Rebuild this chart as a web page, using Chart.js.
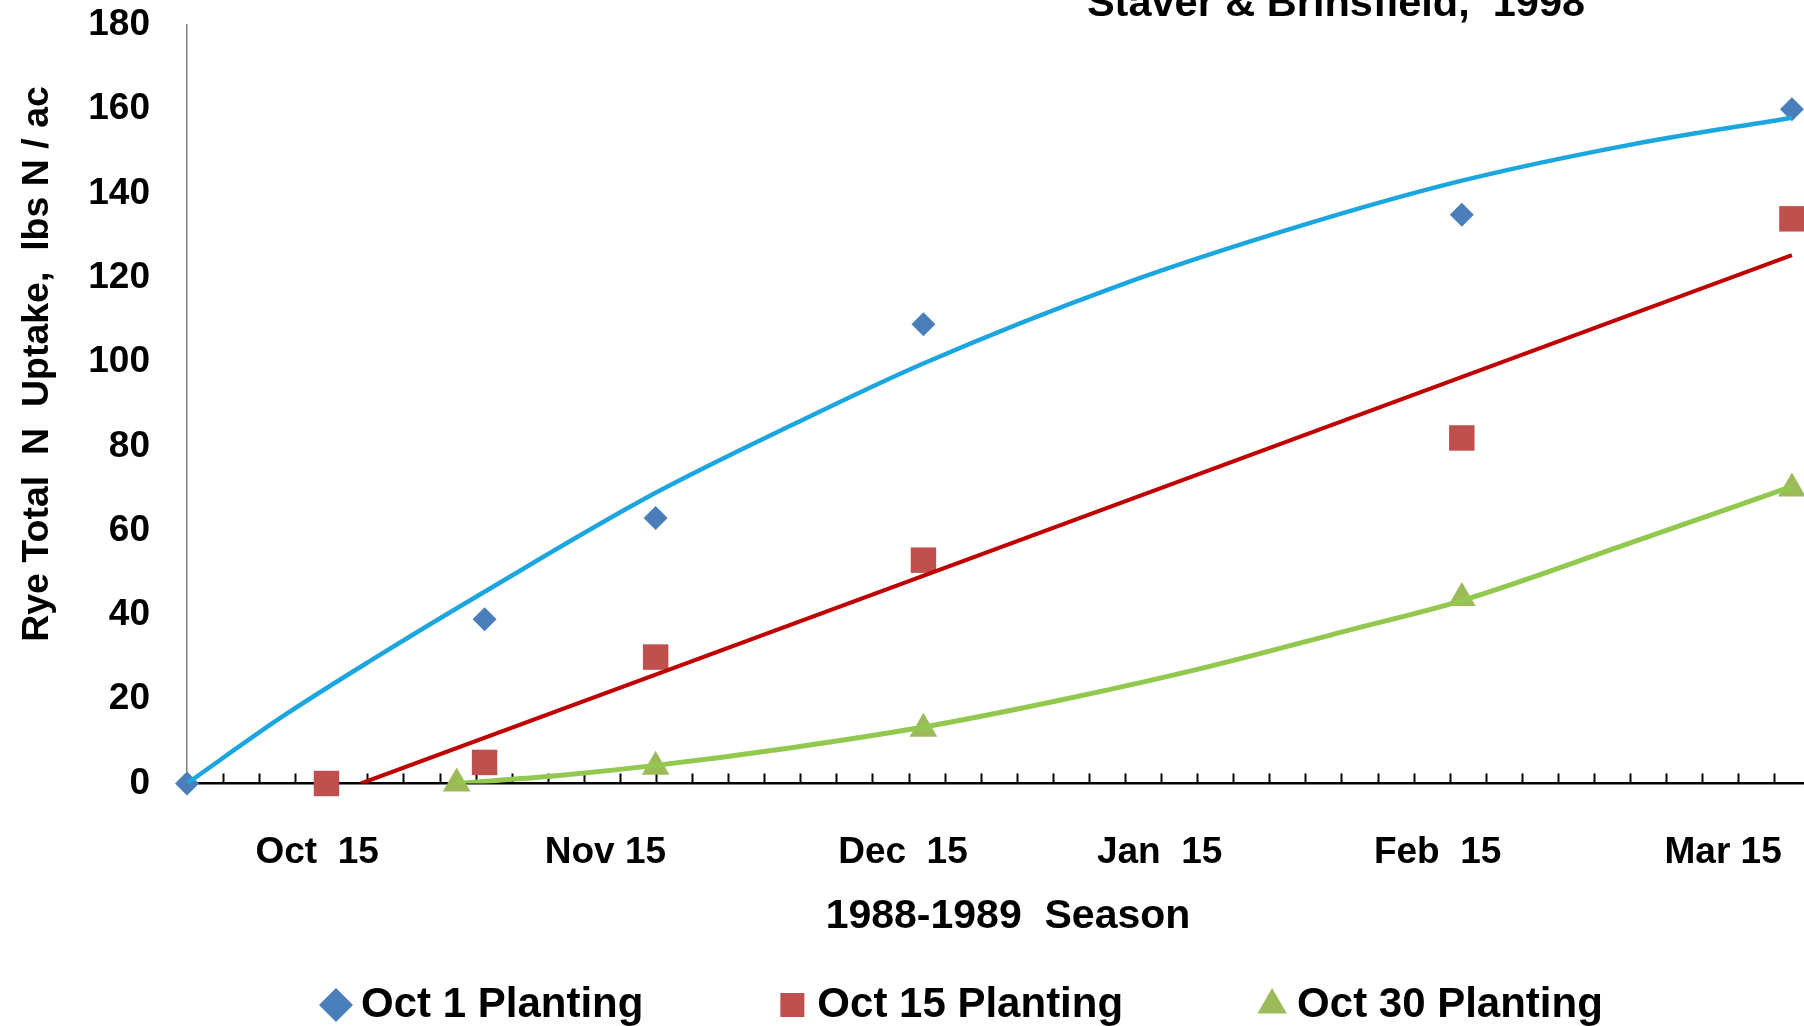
<!DOCTYPE html>
<html>
<head>
<meta charset="utf-8">
<title>Rye Total N Uptake</title>
<script src="https://cdn.jsdelivr.net/npm/chart.js@4.4.1/dist/chart.umd.min.js"></script>
<style>
  html, body { margin: 0; padding: 0; background: #fff; overflow: hidden; }
  #wrap { width: 1804px; height: 1026px; position: relative; }
  #myChart { display: block; }
</style>
</head>
<body>
<div id="wrap"><canvas id="myChart"></canvas></div>
<script>
// x values are days counted from Oct 1, 1988
const oct1Days = [0, 32, 50.4, 79.2, 137.1, 172.6];
const oct1Uptake = [0, 39, 63, 109, 135, 160];
const oct15Days = [15, 32, 50.4, 79.2, 137.1, 172.6];
const oct15Uptake = [0, 5, 30, 53, 82, 134];
const oct30Days = [29, 50.4, 79.2, 137.1, 172.6];
const oct30Uptake = [0, 4, 13, 44, 70];

// trend lines
const oct1TrendDays = [0, 10, 20, 32, 50, 65, 79, 100, 120, 137, 155, 172.6];
const oct1TrendUptake = [0, 15.5, 29.5, 45.5, 68.5, 85, 99.5, 118, 132.5, 143, 151.5, 158];
const oct15TrendDays = [18.7, 172.6];
const oct15TrendUptake = [0, 125.4];
const oct30TrendDays = [29, 40, 50.4, 65, 79.2, 95, 110, 125, 137.1, 155, 172.6];
const oct30TrendUptake = [0, 1.9, 4.3, 8.5, 13.4, 20.3, 27.8, 36.4, 43.4, 56.9, 70.5];

const seriesNames = ['Oct 1 Planting', 'Oct 15 Planting', 'Oct 30 Planting'];
const monthTickDays = [14, 45, 77, 104.6, 134.5, 165.2];
const monthLabels = ['Oct  15', 'Nov 15', 'Dec  15', 'Jan  15', 'Feb  15', 'Mar 15'];
const yTicks = [0, 20, 40, 60, 80, 100, 120, 140, 160, 180];
const minorStep = 3.88;
const xMax = 173.9;

const chartTitle = 'Staver & Brinsfield,  1998';
const xTitle = '1988-1989  Season';
const yTitle = 'Rye Total  N  Uptake,  lbs N / ac';

const FONT = '"Liberation Sans", Arial, sans-serif';

function pts(xs, ys) {
    return xs.map((x, i) => ({ x: x, y: ys[i] }));
}

function noSidePadding(s) {
    s.paddingLeft = 0;
    s.paddingRight = 0;
}

// small upward tick marks along the x axis
const minorTicks = {
    id: 'minorTicks',
    beforeDatasetsDraw(chart) {
        const sx = chart.scales.x;
        const bottom = chart.chartArea.bottom;
        const ctx = chart.ctx;
        ctx.save();
        ctx.strokeStyle = '#000';
        ctx.lineWidth = 2;
        for (let d = minorStep; d < sx.max; d += minorStep) {
            const px = Math.round(sx.getPixelForValue(d)) + 0.5;
            ctx.beginPath();
            ctx.moveTo(px, bottom);
            ctx.lineTo(px, bottom - 10);
            ctx.stroke();
        }
        ctx.restore();
    }
};

const extraText = {
    id: 'extraText',
    afterDraw(chart) {
        const ctx = chart.ctx;
        ctx.save();
        ctx.fillStyle = '#000';
        ctx.textAlign = 'center';
        ctx.textBaseline = 'alphabetic';
        ctx.font = 'bold 41.5px ' + FONT;
        ctx.fillText(chartTitle, 1336, 16);
        ctx.textBaseline = 'middle';
        ctx.font = 'bold 41px ' + FONT;
        ctx.fillText(xTitle, 1008, 917);
        ctx.translate(38, 364);
        ctx.rotate(-Math.PI / 2);
        ctx.font = 'bold 37.5px ' + FONT;
        ctx.fillText(yTitle, 0, 0);
        ctx.restore();
    }
};

document.addEventListener("DOMContentLoaded", function() {
    Chart.defaults.font.family = FONT;
    Chart.defaults.color = '#000';
    const ctx = document.getElementById('myChart').getContext('2d');
    const myChart = new Chart(ctx, {
        type: 'scatter',
        data: {
            datasets: [{
                label: seriesNames[0],
                data: pts(oct1Days, oct1Uptake),
                pointStyle: 'rectRot',
                pointRadius: 12,
                backgroundColor: '#4A7EBB',
                borderColor: '#4A7EBB',
                borderWidth: 0,
                clip: false,
                order: 1
            }, {
                label: seriesNames[1],
                data: pts(oct15Days, oct15Uptake),
                pointStyle: 'rect',
                pointRadius: 18,
                backgroundColor: '#C0504D',
                borderColor: '#C0504D',
                borderWidth: 0,
                clip: false,
                order: 1
            }, {
                label: seriesNames[2],
                data: pts(oct30Days, oct30Uptake),
                pointStyle: 'triangle',
                pointRadius: 16,
                backgroundColor: '#9BBB59',
                borderColor: '#9BBB59',
                borderWidth: 0,
                clip: false,
                order: 1
            }, {
                type: 'line',
                label: 'trend1',
                data: pts(oct1TrendDays, oct1TrendUptake),
                borderColor: '#1CA6E0',
                borderWidth: 4.5,
                pointRadius: 0,
                cubicInterpolationMode: 'monotone',
                fill: false,
                order: 0
            }, {
                type: 'line',
                label: 'trend2',
                data: pts(oct15TrendDays, oct15TrendUptake),
                borderColor: '#C00000',
                borderWidth: 4,
                pointRadius: 0,
                fill: false,
                order: 0
            }, {
                type: 'line',
                label: 'trend3',
                data: pts(oct30TrendDays, oct30TrendUptake),
                borderColor: '#92C84E',
                borderWidth: 5,
                pointRadius: 0,
                cubicInterpolationMode: 'monotone',
                fill: false,
                order: 0
            }]
        },
        options: {
            responsive: true,
            maintainAspectRatio: false,
            animation: false,
            devicePixelRatio: 1,
            layout: {
                autoPadding: false,
                padding: { top: 25, right: 0, bottom: -10, left: 0 }
            },
            plugins: {
                legend: {
                    position: 'bottom',
                    align: 'start',
                    fullSize: false,
                    labels: {
                        usePointStyle: true,
                        boxWidth: 8,
                        boxHeight: 24,
                        padding: 145,
                        color: '#000',
                        font: { size: 42, weight: 'bold' },
                        filter: item => item.datasetIndex < 3
                    }
                },
                tooltip: { enabled: false }
            },
            scales: {
                x: {
                    type: 'linear',
                    min: 0,
                    max: xMax,
                    afterFit: s => { s.height = 55.5; noSidePadding(s); },
                    grid: { display: false, drawTicks: false },
                    border: { color: '#000', width: 2.5 },
                    ticks: { display: false }
                },
                xm: {
                    type: 'linear',
                    axis: 'x',
                    position: { y: 0 },
                    min: 0,
                    max: xMax,
                    afterBuildTicks: s => { s.ticks = monthTickDays.map(v => ({ value: v })); },
                    afterFit: noSidePadding,
                    grid: { display: false, drawTicks: false },
                    border: { display: false },
                    ticks: {
                        autoSkip: false,
                        maxRotation: 0,
                        padding: 47,
                        color: '#000',
                        font: { size: 37, weight: 'bold' },
                        callback: (v, i) => monthLabels[i]
                    }
                },
                y: {
                    min: 0,
                    max: 180,
                    afterBuildTicks: s => { s.ticks = yTicks.map(v => ({ value: v })); },
                    afterFit: s => { s.width = 187; s.paddingTop = 0; s.paddingBottom = 0; },
                    grid: { display: false, drawTicks: false },
                    border: { color: '#808080', width: 1.5 },
                    ticks: {
                        padding: 37,
                        color: '#000',
                        font: { size: 37, weight: 'bold' }
                    }
                }
            }
        },
        plugins: [minorTicks, extraText]
    });
});

window.addEventListener('load', () => {
    window.dispatchEvent(new Event('resize'));
});
</script>
</body>
</html>
